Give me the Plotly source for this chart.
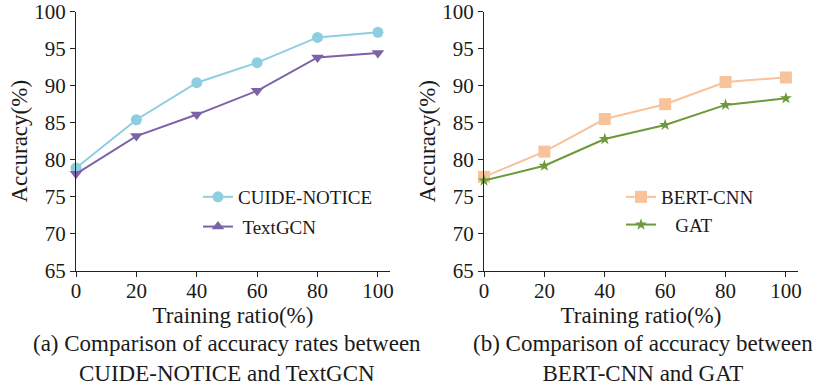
import plotly.graph_objects as go

# ---- data ----
ratio = [0, 20, 40, 60, 80, 100]
cuide_notice = [78.9, 85.4, 90.4, 93.1, 96.5, 97.2]
textgcn = [78.1, 83.2, 86.1, 89.3, 93.8, 94.4]
bert_cnn = [77.7, 81.1, 85.5, 87.5, 90.5, 91.1]
gat = [77.2, 79.2, 82.8, 84.7, 87.4, 88.3]
x_ticks = [0, 20, 40, 60, 80, 100]
y_ticks = [65, 70, 75, 80, 85, 90, 95, 100]
caption_a = "(a) Comparison of accuracy rates between<br>CUIDE-NOTICE and TextGCN"
caption_b = "(b) Comparison of accuracy between<br>BERT-CNN and GAT"

C_CYAN = "#8DCFE0"
C_PURPLE = "#7D62A8"
C_PEACH = "#F8C29A"
C_GREEN = "#6B9A3A"
FONT = "Liberation Serif"
TXT = "#1a1a1a"
W, H = 822, 387

fig = go.Figure()

fig.add_trace(go.Scatter(x=ratio, y=cuide_notice, mode="lines+markers", name="CUIDE-NOTICE",
                         line=dict(color=C_CYAN, width=2), marker=dict(symbol="circle", size=11, color=C_CYAN),
                         xaxis="x", yaxis="y", legend="legend", legendgroup="a1", cliponaxis=False))
fig.add_trace(go.Scatter(x=ratio, y=textgcn, mode="lines+markers", name=" TextGCN", showlegend=False,
                         line=dict(color=C_PURPLE, width=2), marker=dict(symbol="triangle-down", size=11, color=C_PURPLE),
                         xaxis="x", yaxis="y", cliponaxis=False))
fig.add_trace(go.Scatter(x=[None], y=[None], mode="lines+markers", name=" TextGCN",
                         line=dict(color=C_PURPLE, width=2), marker=dict(symbol="triangle-up", size=11, color=C_PURPLE),
                         xaxis="x", yaxis="y", legend="legend", legendgroup="a2"))

fig.add_trace(go.Scatter(x=ratio, y=bert_cnn, mode="lines+markers", name="BERT-CNN",
                         line=dict(color=C_PEACH, width=2), marker=dict(symbol="square", size=12, color=C_PEACH),
                         xaxis="x2", yaxis="y2", legend="legend2", cliponaxis=False))
fig.add_trace(go.Scatter(x=ratio, y=gat, mode="lines+markers", name="   GAT",
                         line=dict(color=C_GREEN, width=2), marker=dict(symbol="star", size=9, color=C_GREEN),
                         xaxis="x2", yaxis="y2", legend="legend2", cliponaxis=False))

ax_common = dict(showline=True, linecolor="#222", linewidth=1.2, ticks="outside", ticklen=5,
                 tickcolor="#222", showgrid=False, zeroline=False, automargin=False,
                 ticklabeloverflow="allow",
                 tickfont=dict(family=FONT, size=21, color=TXT))
xdom1 = [76 / W, 390 / W]
xdom2 = [484 / W, 798 / W]
ydom = [1 - 271 / H, 1 - 11.5 / H]
title_font = dict(family=FONT, size=23, color=TXT)

fig.update_layout(
    width=W, height=H, margin=dict(l=0, r=0, t=0, b=0, autoexpand=False),
    paper_bgcolor="white", plot_bgcolor="white",
    font=dict(family=FONT, color=TXT),
    xaxis=dict(domain=xdom1, range=[0, 104], tickvals=x_ticks, anchor="y", ticklabelstandoff=-4,
               title=dict(text="Training ratio(%)", font=title_font, standoff=2), **ax_common),
    yaxis=dict(domain=ydom, range=[65, 100], tickvals=y_ticks, anchor="x",
               title=dict(text="Accuracy(%)", font=title_font, standoff=0), **ax_common),
    xaxis2=dict(domain=xdom2, range=[0, 104], tickvals=x_ticks, anchor="y2", ticklabelstandoff=-4,
                title=dict(text="Training ratio(%)", font=title_font, standoff=2), **ax_common),
    yaxis2=dict(domain=ydom, range=[65, 100], tickvals=y_ticks, anchor="x2",
                title=dict(text="Accuracy(%)", font=title_font, standoff=0), **ax_common),
    legend=dict(x=198 / W, y=1 - 178 / H, xanchor="left", yanchor="top", bgcolor="rgba(0,0,0,0)",
                font=dict(family=FONT, size=19, color=TXT), tracegroupgap=2),
    legend2=dict(x=621 / W, y=1 - 178 / H, xanchor="left", yanchor="top", bgcolor="rgba(0,0,0,0)",
                 font=dict(family=FONT, size=19, color=TXT), tracegroupgap=0),
    annotations=[
        dict(text=caption_a, x=227 / W, y=1 - 358 / H, xref="paper", yref="paper", showarrow=False,
             xanchor="center", yanchor="middle", font=dict(family=FONT, size=23, color=TXT)),
        dict(text=caption_b, x=643 / W, y=1 - 358 / H, xref="paper", yref="paper", showarrow=False,
             xanchor="center", yanchor="middle", font=dict(family=FONT, size=23, color=TXT)),
    ],
)

fig.write_html("out.html")
